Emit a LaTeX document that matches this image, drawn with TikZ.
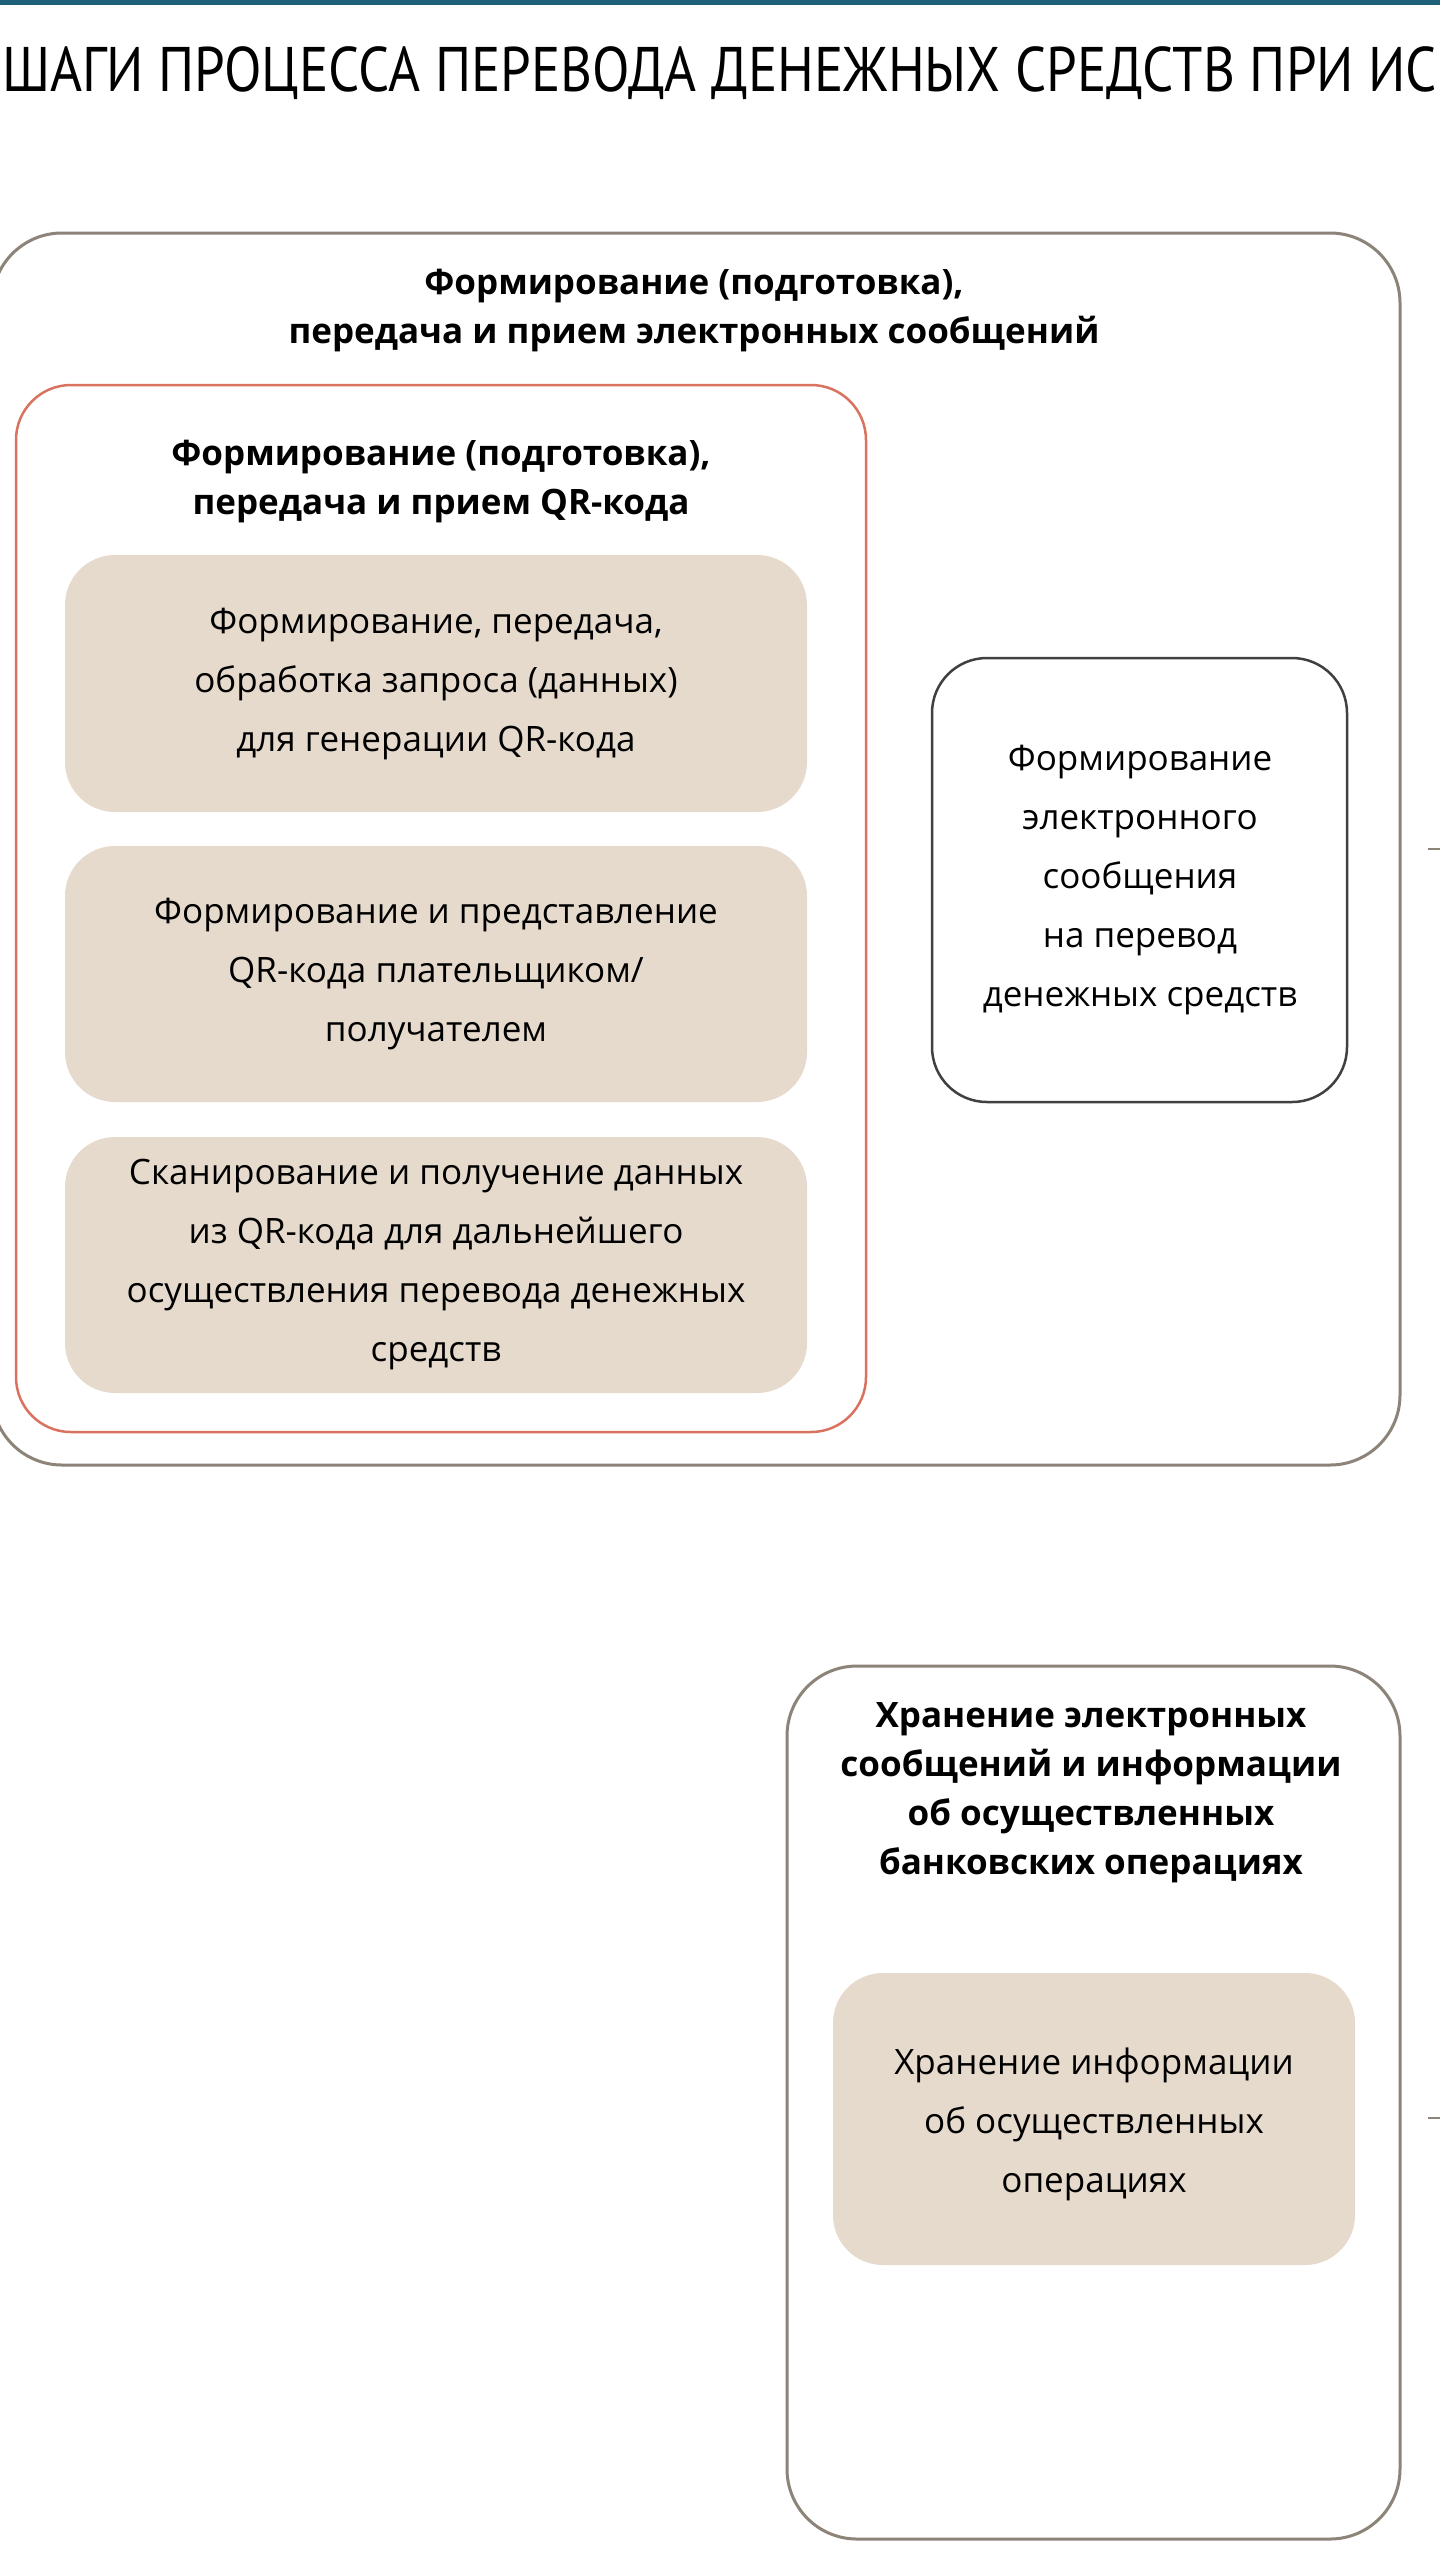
\documentclass[tikz,border=0pt]{standalone}
\usepackage{fontspec}
\setmainfont{Open Sans}
\newfontfamily\headfont{PT Sans}
\usetikzlibrary{positioning}
\definecolor{framegray}{HTML}{8C8478}
\definecolor{framered}{HTML}{D9735F}
\definecolor{stepfill}{HTML}{E6DACD}
\definecolor{topteal}{HTML}{1F5F78}
\tikzset{
  outerbox/.style={draw=framegray,line width=3pt,rounded corners=70pt},
  qrbox/.style={draw=framered,line width=2.5pt,rounded corners=55pt},
  stepbox/.style={fill=stepfill,rounded corners=50pt},
  msgbox/.style={draw=black!75,line width=2.5pt,rounded corners=55pt,fill=white},
  boxtitle/.style={font=\fontsize{35}{49}\selectfont\bfseries,align=center},
  steptext/.style={font=\fontsize{35}{59}\selectfont,align=center}
}
\begin{document}
\begin{tikzpicture}[x=1pt,y=-1pt]
\useasboundingbox (0,0) rectangle (1440,2560);
\fill[white] (0,0) rectangle (1440,2560);
\fill[topteal] (0,0) rectangle (1440,5);
% heading, as far as the page shows it
\node[font=\headfont\fontsize{63}{70}\selectfont,xscale=0.87,anchor=west,inner sep=0pt] (heading) at (2,73) {ШАГИ ПРОЦЕССА ПЕРЕВОДА ДЕНЕЖНЫХ СРЕДСТВ ПРИ ИСП};
% electronic messages
\draw[outerbox] (-8,233) rectangle (1400,1465);
\node[boxtitle] (msgtitle) at (694,311) {Формирование (подготовка),\\передача и прием электронных сообщений};
\draw[qrbox] (16,385) rectangle (866,1432);
\node[boxtitle] (qrtitle) at (441,482) {Формирование (подготовка),\\передача и прием QR-кода};
\fill[stepbox] (65,555) rectangle (807,812);
\node[steptext] (request) at (436,684) {Формирование, передача,\\обработка запроса (данных)\\для генерации QR-кода};
\fill[stepbox] (65,846) rectangle (807,1102);
\node[steptext] (present) at (436,974) {Формирование и представление\\QR-кода плательщиком/\\получателем};
\fill[stepbox] (65,1137) rectangle (807,1393);
\node[steptext] (scan) at (436,1265) {Сканирование и получение данных\\из QR-кода для дальнейшего\\осуществления перевода денежных\\средств};
\draw[msgbox] (932,658) rectangle (1347,1102);
\node[steptext] (transfer) at (1140,880) {Формирование\\электронного\\сообщения\\на перевод\\денежных средств};
% storage
\draw[outerbox] (787,1666) rectangle (1400,2539);
\node[boxtitle] (storetitle) at (1091,1793) {Хранение электронных\\сообщений и информации\\об осуществленных\\банковских операциях};
\fill[stepbox] (833,1973) rectangle (1355,2265);
\node[steptext] (store) at (1094,2124) {Хранение информации\\об осуществленных\\операциях};
% edge marks
\draw[framegray,line width=2pt] (1428,849) -- (1440,849);
\draw[framegray,line width=2pt] (1428,2118) -- (1440,2118);
\end{tikzpicture}
\end{document}
